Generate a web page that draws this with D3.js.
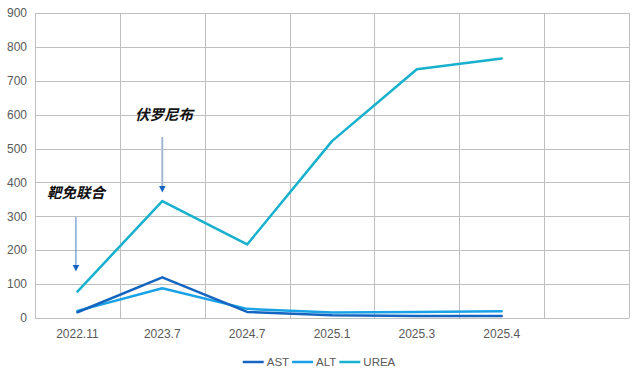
<!DOCTYPE html>
<html><head><meta charset="utf-8">
<script src="https://cdn.jsdelivr.net/npm/d3@7"></script>
<style>
html,body{margin:0;padding:0;background:#fff;}
svg{display:block;}
text{font-family:"Liberation Sans","DejaVu Sans",sans-serif;}
</style></head>
<body>
<svg id="c" width="640" height="379"></svg>
<script>
const categories = ["2022.11","2023.7","2024.7","2025.1","2025.3","2025.4"];
const extraSlots = [""]; // empty trailing category slot on the axis
const astValues  = [17, 120, 18, 8, 6, 6];
const altValues  = [21, 88, 27, 16, 18, 20];
const ureaValues = [78, 345, 217, 522, 734, 766];
const yTicks = [0,100,200,300,400,500,600,700,800,900];
const seriesNames = ["AST","ALT","UREA"];
const seriesColors = ["#1565c0","#19a3e6","#17b0cd"];
const annotations = [
  {label:"靶免联合", cat:"2022.11"},
  {label:"伏罗尼布", cat:"2023.7"}
];

const svg = d3.select("#c");
const L=35, R=629, T=13, B=318;
const x = d3.scaleBand().domain([...categories, ...extraSlots]).range([L,R]).padding(0);
const y = d3.scaleLinear().domain([0,900]).range([B,T]);
const cx = c => x(c) + x.bandwidth()/2;

// horizontal grid
svg.append("g").selectAll("line").data(yTicks).join("line")
  .attr("x1",L).attr("x2",R)
  .attr("y1",d=>Math.round(y(d))+0.5).attr("y2",d=>Math.round(y(d))+0.5)
  .attr("stroke","#bfbfbf").attr("stroke-width",1);
// vertical grid at band edges
const edges = x.domain().map(d=>x(d)).concat([R]);
svg.append("g").selectAll("line").data(edges).join("line")
  .attr("x1",d=>Math.round(d)+0.5).attr("x2",d=>Math.round(d)+0.5)
  .attr("y1",T).attr("y2",B)
  .attr("stroke","#bfbfbf").attr("stroke-width",1);

// y labels
svg.append("g").selectAll("text").data(yTicks).join("text")
  .attr("x",27).attr("y",d=>y(d)).attr("dy","0.35em")
  .attr("text-anchor","end").attr("font-size",12).attr("fill","#595959")
  .text(d=>d);
// x labels
svg.append("g").selectAll("text").data(categories).join("text")
  .attr("x",d=>cx(d)).attr("y",338)
  .attr("text-anchor","middle").attr("font-size",12).attr("fill","#595959")
  .text(d=>d);

const series = [astValues, altValues, ureaValues];
const line = d3.line().x((d,i)=>cx(categories[i])).y(d=>y(d));
[2,1,0].forEach(k=>{
  svg.append("path").datum(series[k])
    .attr("d",line).attr("fill","none")
    .attr("stroke",seriesColors[k]).attr("stroke-width",2.5)
    .attr("stroke-linejoin","round").attr("stroke-linecap","round");
});

// annotations
const defs = svg.append("defs");
defs.append("marker").attr("id","ah").attr("viewBox","0 0 10 10")
  .attr("refX",5).attr("refY",5).attr("markerWidth",7).attr("markerHeight",7)
  .attr("markerUnits","userSpaceOnUse").attr("orient","auto")
  .append("path").attr("d","M0,0 L10,5 L0,10 z").attr("fill","#1565c0");

const annPos = [
  {tx:76, ty:198, ay1:217, ay2:271, col:"#4a7fc0", w:1},
  {tx:164, ty:120, ay1:137, ay2:192, col:"#a4b8cf", w:2}
];
annotations.forEach((a,i)=>{
  const p = annPos[i];
  const ax = cx(a.cat) - (i===0?1.5:0);
  svg.append("text").attr("x",p.tx).attr("y",p.ty)
    .attr("text-anchor","middle").attr("font-size",14.5).attr("font-weight","bold")
    .attr("font-style","italic").attr("fill","#111")
    .style("font-family","'Noto Sans CJK SC',sans-serif")
    .text(a.label);
  svg.append("line").attr("x1",ax).attr("x2",ax).attr("y1",p.ay1).attr("y2",p.ay2-3)
    .attr("stroke",p.col).attr("stroke-width",p.w).attr("marker-end","url(#ah)");
});

// legend (laid out from measured text widths, centred)
const lg = svg.append("g");
let cur = 0;
seriesNames.forEach((n,i)=>{
  const g = lg.append("g").attr("transform",`translate(${cur},362)`);
  g.append("line").attr("x1",0).attr("x2",21).attr("y1",0).attr("y2",0)
    .attr("stroke",seriesColors[i]).attr("stroke-width",2.5);
  const t = g.append("text").attr("x",24).attr("y",0).attr("dy","0.35em")
    .attr("font-size",11.5).attr("fill","#595959").text(n);
  cur += 24 + t.node().getComputedTextLength() + 3;
});
const totalW = cur - 3;
lg.attr("transform",`translate(${319 - totalW/2},0)`);
</script>
</body></html>
